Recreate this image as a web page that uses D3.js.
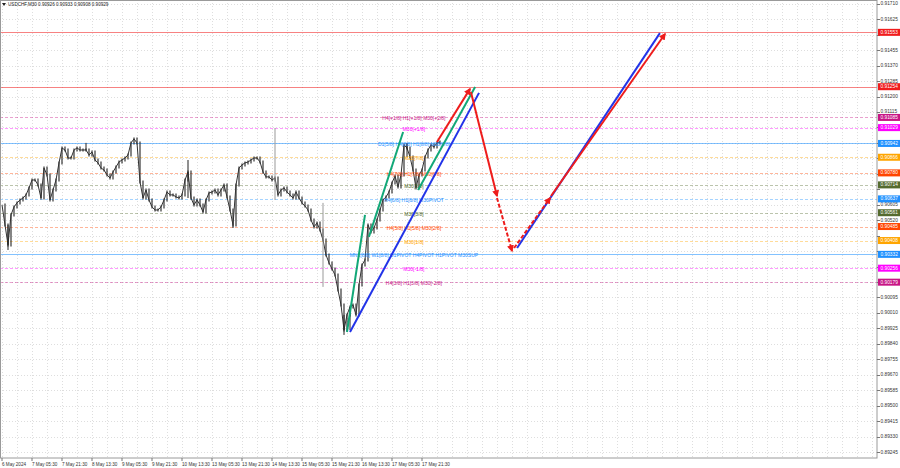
<!DOCTYPE html>
<html><head><meta charset="utf-8">
<script src="https://cdn.jsdelivr.net/npm/d3@7/dist/d3.min.js"></script>
<style>body{margin:0;background:#fff}svg{display:block}text{font-family:"Liberation Sans",Arial,sans-serif}</style>
</head><body>
<svg id="c" width="900" height="468"></svg>
<script>
// ---------- data ----------
const symbolTitle = "USDCHF,M30  0.90926 0.90933 0.90908 0.90929";
const timeLabels = ["6 May 2024","7 May 05:30","7 May 21:30","8 May 13:30","9 May 05:30","9 May 21:30","10 May 13:30","13 May 05:30","13 May 21:30","14 May 13:30","15 May 05:30","15 May 21:30","16 May 13:30","17 May 05:30","17 May 21:30"];
const samplesPerLabel = 10; // one sample = 96 minutes
const priceTicks = [0.91710,0.91625,0.91540,0.91455,0.91370,0.91285,0.91200,0.91115,0.91030,0.90945,0.90860,0.90775,0.90690,0.90605,0.90520,0.90435,0.90350,0.90265,0.90180,0.90095,0.90010,0.89925,0.89840,0.89755,0.89670,0.89585,0.89500,0.89415,0.89330,0.89245];
const closes = [
0.90604,0.90494,0.90384,0.90549,0.90593,0.90615,0.90631,0.90642,0.90659,0.90697,
0.90741,0.90741,0.90714,0.90642,0.90807,0.90769,0.90631,0.90686,0.90741,0.90835,
0.90917,0.90906,0.90862,0.90862,0.90906,0.90917,0.90906,0.90906,0.90906,0.90879,
0.90895,0.90851,0.90835,0.90807,0.90796,0.90769,0.90752,0.90785,0.90813,0.90840,
0.90851,0.90862,0.90879,0.90945,0.90967,0.90945,0.90730,0.90642,0.90686,0.90631,
0.90593,0.90576,0.90576,0.90593,0.90631,0.90675,0.90659,0.90659,0.90648,0.90642,
0.90659,0.90741,0.90785,0.90642,0.90604,0.90631,0.90604,0.90565,0.90631,0.90670,
0.90675,0.90686,0.90659,0.90686,0.90714,0.90648,0.90576,0.90494,0.90714,0.90807,
0.90824,0.90835,0.90840,0.90851,0.90862,0.90862,0.90840,0.90785,0.90758,0.90758,
0.90741,0.90752,0.90659,0.90686,0.90697,0.90675,0.90659,0.90642,0.90675,0.90642,
0.90615,0.90598,0.90576,0.90521,0.90483,0.90505,0.90466,0.90411,0.90329,0.90285,
0.90252,0.90219,0.90136,0.90054,0.89916,0.89999,0.90043,0.90054,0.89999,0.90164,
0.90274,0.90301,0.90494,0.90455,0.90477,0.90521,0.90576,0.90631,0.90648,0.90675,
0.90725,0.90763,0.90703,0.90769,0.90934,0.90917,0.90868,0.90796,0.90697,0.90769,
0.90796,0.90868,0.90906,0.90934,0.90923,0.90945,0.90950];
const wickIdx  = [2,28,62,77,91,107,114,116,135];
const wickHigh = [0.90494,0.90945,0.90851,0.90494,0.91027,0.90615,0.89999,0.90043,0.90945];
const wickLow  = [0.90356,0.90906,0.90642,0.90477,0.90631,0.90153,0.89889,0.89916,0.90868];
const wickGrey = [false,false,false,false,true,true,false,false,false];

const levelPrices = [0.91553,0.91254,0.91085,0.91029,0.90942,0.90866,0.90780,0.90714,0.90637,0.90561,0.90485,0.90408,0.90332,0.90256,0.90179];
const levelColors = ["#f01c1c","#f01c1c","#c71585","#ff00ff","#1e90ff","#ffa500","#ff4500","#556b2f","#1e90ff","#556b2f","#ff4500","#ffa500","#1e90ff","#ff00ff","#c71585"];
const levelSolid  = [true,true,false,false,true,false,false,false,false,false,false,false,true,false,false];
const levelLabels = ["","","H4[+1/8] H1[+1/8] M30[+2/8]","M30[+1/8]","D1[5/8] H4[8/8] H1[8/8] M30[8/8]","M30[7/8]","H4[7/8] H1[7/8] M30[6/8]","M30[5/8]","H4[6/8] H1[6/8] M30PIVOT","M30[3/8]","H4[5/8] H1[5/8] M30[2/8]","M30[1/8]","MN1[8/8] W1[8/8] D1PIVOT H4PIVOT H1PIVOT M30SUP","M30[-1/8]","H4[3/8] H1[3/8] M30[-2/8]"];
const levelLabelAt = 137.3;

// trend lines: [sampleStart, priceStart, sampleEnd, priceEnd]
const greenLines = [[115,0.89905,121,0.90549],[122.3,0.90428,133.7,0.91005],[138.7,0.90686,157.7,0.91253]];
const blueLines  = [[116,0.89905,159,0.91220],[171.7,0.90367,219.3,0.91549]];
// forecast arrows: [sampleStart, priceStart, sampleEnd, priceEnd, dashed]
const redArrows = [[145,0.90950,156,0.91242,false],[156.3,0.91225,165,0.90653,false],[165,0.90642,170,0.90351,true],[170.7,0.90367,182.7,0.90642,true],[183,0.90653,221,0.91544,false]];

// ---------- drawing ----------
const svg = d3.select("#c");
const plotR = 877, plotB = 458;
const x = d3.scaleLinear().domain([0, samplesPerLabel]).range([2, 32]);
const y = d3.scaleLinear().domain([0.89245, 0.91710]).range([452, 3.8]);

svg.append("rect").attr("width",900).attr("height",468).attr("fill","#fff");

// grid
const g = svg.append("g");
g.selectAll("line.hg").data(priceTicks).join("line")
  .attr("x1",0).attr("x2",plotR).attr("y1",d=>Math.round(y(d))+0.5).attr("y2",d=>Math.round(y(d))+0.5)
  .attr("stroke","#dedede").attr("stroke-width",1).attr("stroke-dasharray","1,2");
const vg = d3.range(0, 292, samplesPerLabel/2);
g.selectAll("line.vg").data(vg).join("line")
  .attr("y1",0).attr("y2",plotB).attr("x1",d=>Math.round(x(d))+0.5).attr("x2",d=>Math.round(x(d))+0.5)
  .attr("stroke","#dedede").attr("stroke-width",1).attr("stroke-dasharray","1,2");

// level lines
svg.append("g").selectAll("line").data(levelPrices).join("line")
  .attr("x1",0).attr("x2",plotR).attr("y1",d=>Math.round(y(d))+0.5).attr("y2",d=>Math.round(y(d))+0.5)
  .attr("stroke",(d,i)=>levelColors[i]).attr("stroke-opacity",(d,i)=>levelSolid[i]?0.55:0.4).attr("stroke-width",1)
  .attr("stroke-dasharray",(d,i)=>levelSolid[i]?null:"3,2");

// price bars
const pb = svg.append("g");
pb.selectAll("line").data(closes.slice(1)).join("line")
  .attr("x1",(d,i)=>x(i+1)).attr("x2",(d,i)=>x(i+1))
  .attr("y1",(d,i)=>Math.min(y(d),y(closes[i]))-1.5).attr("y2",(d,i)=>Math.max(y(d),y(closes[i]))+1.5)
  .attr("stroke","#222").attr("stroke-width",1.1);
pb.append("path").datum(closes)
  .attr("d", d3.line().x((d,i)=>x(i)).y(d=>y(d)))
  .attr("fill","none").attr("stroke","#333").attr("stroke-width",1);
pb.selectAll("line.w").data(wickIdx).join("line")
  .attr("x1",d=>x(d)).attr("x2",d=>x(d))
  .attr("y1",(d,i)=>y(wickHigh[i])).attr("y2",(d,i)=>y(wickLow[i]))
  .attr("stroke",(d,i)=>wickGrey[i]?"#999":"#222").attr("stroke-width",1);

// level labels
svg.append("g").selectAll("text").data(levelLabels).join("text")
  .attr("x",x(levelLabelAt)).attr("y",(d,i)=>y(levelPrices[i])+1)
  .attr("text-anchor","middle").attr("dominant-baseline","central")
  .attr("font-size",5).attr("fill",(d,i)=>levelColors[i]).text(d=>d);

// markers
const defs = svg.append("defs");
defs.append("marker").attr("id","arrR").attr("viewBox","0 0 10 10").attr("refX",8).attr("refY",5)
  .attr("markerWidth",3.5).attr("markerHeight",3.5).attr("orient","auto")
  .append("path").attr("d","M0,0L10,5L0,10z").attr("fill","#ee1c1c");

// trend lines
const tl = svg.append("g");
tl.selectAll("line.g").data(greenLines).join("line")
  .attr("x1",d=>x(d[0])).attr("y1",d=>y(d[1])).attr("x2",d=>x(d[2])).attr("y2",d=>y(d[3]))
  .attr("stroke","#12a878").attr("stroke-width",2);
tl.selectAll("line.b").data(blueLines).join("line")
  .attr("x1",d=>x(d[0])).attr("y1",d=>y(d[1])).attr("x2",d=>x(d[2])).attr("y2",d=>y(d[3]))
  .attr("stroke","#2233e8").attr("stroke-width",2);
svg.append("g").selectAll("line").data(redArrows).join("line")
  .attr("x1",d=>x(d[0])).attr("y1",d=>y(d[1])).attr("x2",d=>x(d[2])).attr("y2",d=>y(d[3]))
  .attr("stroke","#ee1c1c").attr("stroke-width",2)
  .attr("stroke-dasharray",d=>d[4]?"4,2":null).attr("marker-end","url(#arrR)");

// frame
svg.append("rect").attr("x",0.5).attr("y",0.5).attr("width",plotR-0.5).attr("height",plotB-0.5)
  .attr("fill","none").attr("stroke","#9a9a9a").attr("stroke-width",1);

// right axis (tick labels hidden where a level label box covers them)
const visibleTicks = priceTicks.filter(t => levelPrices.every(l => Math.abs(y(t)-y(l)) >= 5));
const ra = svg.append("g");
ra.selectAll("line").data(priceTicks).join("line")
  .attr("x1",plotR).attr("x2",plotR+3).attr("y1",d=>Math.round(y(d))+0.5).attr("y2",d=>Math.round(y(d))+0.5)
  .attr("stroke","#777");
ra.selectAll("text").data(visibleTicks).join("text")
  .attr("x",plotR+3.5).attr("y",d=>y(d)).attr("dominant-baseline","central")
  .attr("font-size",4.8).attr("fill","#333").text(d=>d.toFixed(5));
const la = svg.append("g").selectAll("g").data(levelPrices).join("g");
la.append("rect").attr("x",plotR+1).attr("y",d=>y(d)-3.5).attr("width",22).attr("height",7)
  .attr("fill",(d,i)=>levelColors[i]);
la.append("text").attr("x",plotR+3.5).attr("y",d=>y(d)).attr("dominant-baseline","central")
  .attr("font-size",4.8).attr("fill","#fff").text(d=>d.toFixed(5));

// bottom axis
const ba = svg.append("g");
ba.selectAll("line").data(timeLabels).join("line")
  .attr("x1",(d,i)=>x(i*samplesPerLabel)).attr("x2",(d,i)=>x(i*samplesPerLabel))
  .attr("y1",plotB).attr("y2",plotB+3).attr("stroke","#777");
ba.selectAll("text").data(timeLabels).join("text")
  .attr("x",(d,i)=>x(i*samplesPerLabel)).attr("y",464).attr("dominant-baseline","central")
  .attr("font-size",4.6).attr("fill","#333").text(d=>d);

// title
svg.append("path").attr("d","M2,3L6,3L4,6Z").attr("fill","#222");
svg.append("text").attr("x",8).attr("y",4.5).attr("dominant-baseline","central")
  .attr("font-size",4.6).attr("fill","#222").text(symbolTitle);
</script>
</body></html>
